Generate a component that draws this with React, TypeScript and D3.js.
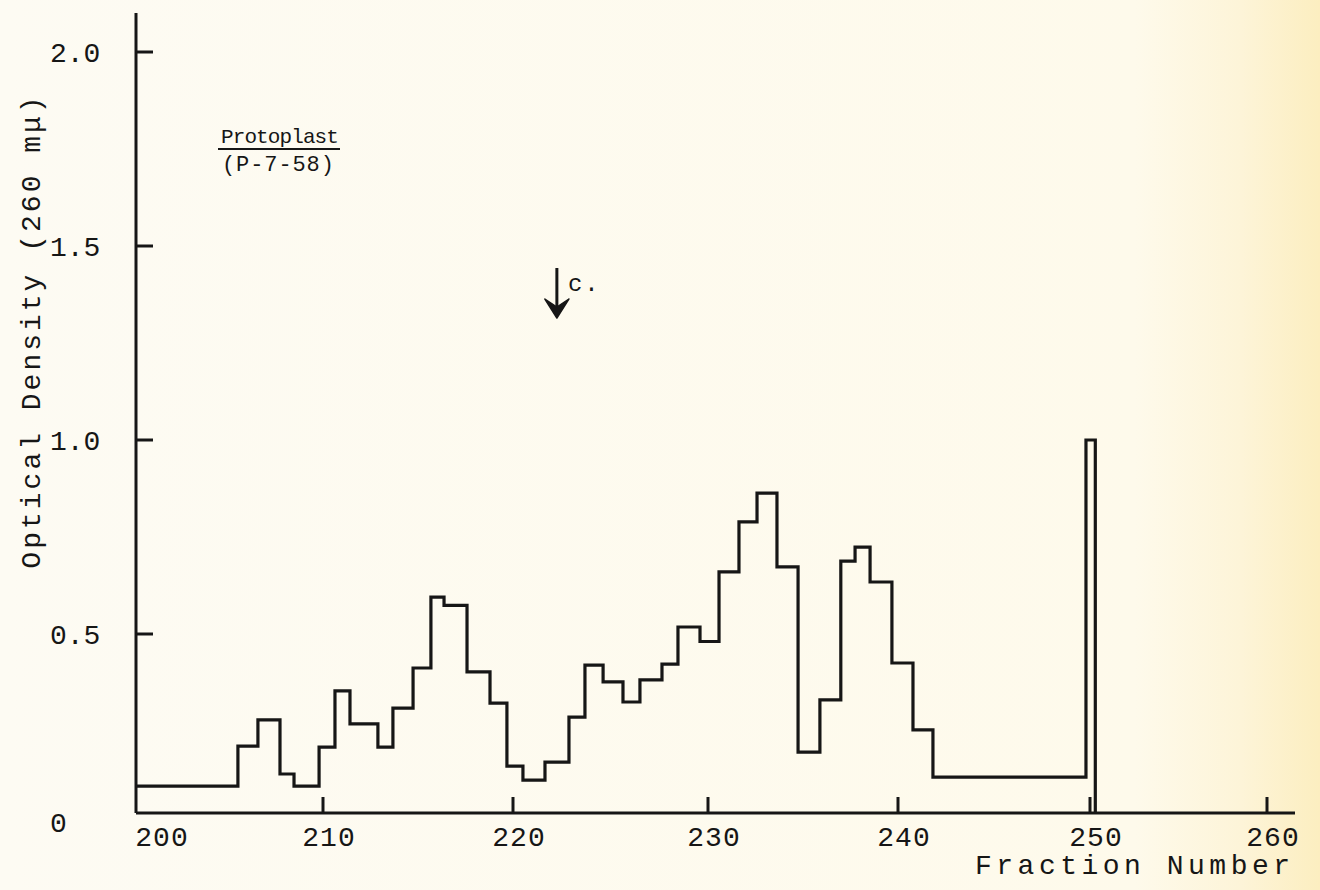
import React from "react";
import * as d3 from "d3";

// Fraction-number edges of each step and the OD level of each step
const stepEdges: number[] = [
  200, 205.45, 206.52, 207.7, 208.45, 209.79, 210.63, 211.42, 212.89, 213.68, 214.74,
  215.68, 216.37, 217.58, 218.79, 219.68, 220.51, 221.64, 222.87, 223.69, 224.62,
  225.64, 226.51, 227.64, 228.46, 229.59, 230.58, 231.63, 232.58, 233.63, 234.74,
  235.89, 236.99, 237.74, 238.53, 239.68, 240.78, 241.82, 249.79, 250.3, 250.3,
];
const stepValues: number[] = [
  0.075, 0.187, 0.26, 0.109, 0.075, 0.184, 0.341, 0.249, 0.184, 0.293,
  0.405, 0.595, 0.574, 0.394, 0.307, 0.131, 0.092, 0.142, 0.268, 0.413,
  0.366, 0.31, 0.372, 0.416, 0.518, 0.479, 0.66, 0.789, 0.863, 0.673,
  0.17, 0.316, 0.688, 0.724, 0.634, 0.419, 0.232, 0.1, 1.0, 0,
];

const xTicks: number[] = [200, 210, 220, 230, 240, 250, 260];
const xTickLabels: string[] = ["200", "210", "220", "230", "240", "250", "260"];
const yTicks: number[] = [0, 0.5, 1.0, 1.5, 2.0];
const yTickLabels: string[] = ["0", "0.5", "1.0", "1.5", "2.0"];

const titleText = "Protoplast";
const subtitleText = "(P-7-58)";
const yAxisTitle = "Optical Density (260 m\u03bc)";
const xAxisTitle = "Fraction Number";
const markerFraction = 222.25;
const markerLabel = "c.";

const W = 1320;
const H = 890;
const FONT = "'Liberation Mono', 'Courier New', monospace";
const INK = "#161616";

export default function App() {
  const x = d3
    .scaleLinear()
    .domain([200, 210, 220, 230, 240, 250, 260])
    .range([136, 323, 513, 708, 898, 1090, 1267]);
  const y = d3.scaleLinear().domain([0, 0.5, 2]).range([813, 634, 52]);

  const pts: [number, number][] = stepValues.map((v, i) => [stepEdges[i], v]);
  pts.push([stepEdges[stepEdges.length - 1], stepValues[stepValues.length - 1]]);
  const line = d3
    .line<[number, number]>()
    .x((d) => x(d[0]))
    .y((d) => y(d[1]))
    .curve(d3.curveStepAfter);

  const x0 = x(200);
  const y0 = y(0);
  const mx = x(markerFraction);

  return (
    <svg
      width={W}
      height={H}
      style={{ position: "absolute", left: 0, top: 0 }}
      fontFamily={FONT}
    >
      <defs>
        <linearGradient id="paper" x1="0" x2="1" y1="0" y2="0">
          <stop offset="0" stopColor="#FDFBF3" />
          <stop offset="0.86" stopColor="#FEFAEB" />
          <stop offset="0.94" stopColor="#FDF4D8" />
          <stop offset="1" stopColor="#FCEEC0" />
        </linearGradient>
      </defs>
      <rect x={0} y={0} width={W} height={H} fill="url(#paper)" />

      {/* axes */}
      <line x1={x0} x2={x0} y1={13} y2={y0} stroke={INK} strokeWidth={3} />
      <line x1={x0} x2={1295} y1={y0} y2={y0} stroke={INK} strokeWidth={3} />

      {yTicks.filter((t) => t > 0).map((t) => (
        <line key={"yt" + t} x1={x0} x2={x0 + 17} y1={y(t)} y2={y(t)} stroke={INK} strokeWidth={3} />
      ))}
      {xTicks.filter((t) => t > 200).map((t) => (
        <line key={"xt" + t} x1={x(t)} x2={x(t)} y1={y0} y2={y0 - 16} stroke={INK} strokeWidth={3} />
      ))}

      {yTicks.map((t, i) => (
        <text
          key={"yl" + t}
          x={50}
          y={y(t) + (t === 0 ? 9 : 0)}
          dy="0.35em"
          fontSize={28}
          fill={INK}
        >
          {yTickLabels[i]}
        </text>
      ))}
      {xTicks.map((t, i) => (
        <text
          key={"xl" + t}
          x={x(t) + (t === 200 ? 26 : 6)}
          y={y0 + 23}
          dy="0.35em"
          textAnchor="middle"
          fontSize={28}
          letterSpacing={1}
          fill={INK}
        >
          {xTickLabels[i]}
        </text>
      ))}

      <text
        transform={`translate(30,331) rotate(-90)`}
        textAnchor="middle"
        dy="0.35em"
        fontSize={28}
        letterSpacing={3}
        fill={INK}
      >
        {yAxisTitle}
      </text>
      <text x={975} y={874} fontSize={28} letterSpacing={4.5} fill={INK}>
        {xAxisTitle}
      </text>

      {/* title */}
      <text x={221} y={143} fontSize={21} letterSpacing={-0.9} fill={INK}>
        {titleText}
      </text>
      <line x1={218} x2={340} y1={149} y2={149} stroke={INK} strokeWidth={1.8} />
      <text x={222} y={171} fontSize={22} letterSpacing={0.9} fill={INK}>
        {subtitleText}
      </text>

      {/* marker arrow */}
      <line x1={mx} x2={mx} y1={268} y2={308} stroke={INK} strokeWidth={3} />
      <path
        d={`M${mx - 12},299 L${mx},318 L${mx + 12},299 L${mx},307 Z`}
        fill={INK}
        stroke={INK}
        strokeWidth={1.5}
        strokeLinejoin="round"
      />
      <text x={mx + 11} y={291} fontSize={24} letterSpacing={2} fill={INK}>
        {markerLabel}
      </text>

      {/* data */}
      <path d={line(pts) || ""} fill="none" stroke={INK} strokeWidth={3.2} strokeLinejoin="miter" />
    </svg>
  );
}
